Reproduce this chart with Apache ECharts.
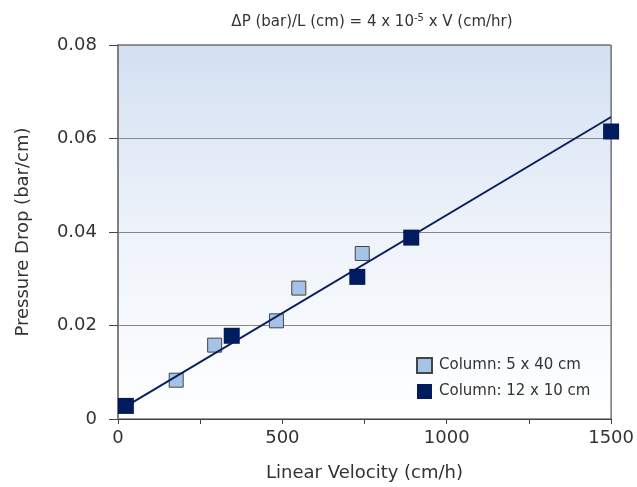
<!DOCTYPE html>
<html>
<head>
<meta charset="utf-8">
<script src="https://cdn.jsdelivr.net/npm/echarts@6/dist/echarts.min.js"></script>
<style>
  html, body { margin: 0; padding: 0; background: #fff; }
  #chart { width: 637px; height: 487px; }
</style>
</head>
<body>
<div id="chart"></div>
<script>
// Column: 5 x 40 cm
const smallColX = [177, 294, 482, 550, 743];
const smallColY = [0.0083, 0.0158, 0.021, 0.028, 0.0354];
// Column: 12 x 10 cm
const bigColX = [24, 346, 728, 892, 1500];
const bigColY = [0.0028, 0.0178, 0.0304, 0.0388, 0.0615];
// linear trend line end points
const trendX = [24, 1500];
const trendY = [0.0027, 0.0646];

const seriesNames = ["Column: 5 x 40 cm", "Column: 12 x 10 cm"];

const pairs = (xs, ys) => xs.map((x, i) => [x, ys[i]]);

const font = "'DejaVu Sans', sans-serif";
const chart = echarts.init(document.getElementById("chart"));

chart.setOption({
  animation: false,
  textStyle: { fontFamily: font },
  title: {
    text: "ΔP (bar)/L (cm) = 4 x 10{sup|-5} x V (cm/hr)",
    left: 367,
    top: 8,
    textAlign: "center",
    textStyle: {
      fontSize: 15,
      fontWeight: "normal",
      color: "#333",
      fontFamily: font,
      rich: {
        sup: { fontSize: 10, verticalAlign: "top", padding: [0, 0, 8, 0], color: "#333", fontFamily: font },
      },
    },
  },
  grid: {
    left: 118,
    right: 25,
    top: 45,
    bottom: 67,
    show: true,
    borderColor: "#333",
    borderWidth: 1,
    backgroundColor: new echarts.graphic.LinearGradient(0, 0, 0, 1, [
      { offset: 0, color: "#d3e0f2" },
      { offset: 0.5, color: "#eef3fa" },
      { offset: 1, color: "#ffffff" },
    ]),
  },
  legend: {
    orient: "vertical",
    left: 416,
    top: 357,
    padding: 0,
    itemWidth: 15,
    itemHeight: 15,
    itemGap: 10,
    icon: "rect",
    data: seriesNames,
    textStyle: { fontSize: 15, lineHeight: 15, color: "#333", fontFamily: font, padding: [0, 0, 0, 2] },
  },
  xAxis: {
    type: "value",
    min: 0,
    max: 1500,
    interval: 250,
    name: "Linear Velocity (cm/h)",
    nameLocation: "middle",
    nameGap: 45,
    nameTextStyle: { fontSize: 18, color: "#333", fontFamily: font },
    axisLine: { show: true, lineStyle: { color: "#444", width: 1 } },
    axisTick: { show: true, length: 5, lineStyle: { color: "#444" } },
    axisLabel: {
      fontSize: 18,
      color: "#333",
      margin: 10,
      formatter: (v) => (v % 500 === 0 ? String(v) : ""),
    },
    splitLine: { show: false },
  },
  yAxis: {
    type: "value",
    min: 0,
    max: 0.08,
    interval: 0.02,
    name: "Pressure Drop (bar/cm)",
    nameLocation: "middle",
    nameGap: 86,
    nameTextStyle: { fontSize: 18, color: "#333", fontFamily: font },
    axisLine: { show: true, lineStyle: { color: "#808080", width: 2 } },
    axisTick: { show: true, length: 9, lineStyle: { color: "#444" } },
    axisLabel: {
      fontSize: 18,
      color: "#333",
      margin: 21,
      formatter: (v) => (v === 0 ? "0" : v.toFixed(2)),
    },
    splitLine: { show: true, lineStyle: { color: "#888", width: 1 } },
  },
  series: [
    {
      name: seriesNames[0],
      type: "scatter",
      symbol: "rect",
      symbolSize: 14,
      z: 2,
      itemStyle: { color: "#a4c3e7", borderColor: "#444", borderWidth: 1, opacity: 1 },
      data: pairs(smallColX, smallColY),
    },
    {
      name: "trend",
      type: "line",
      symbol: "none",
      z: 3,
      lineStyle: { color: "#0a1f5e", width: 2 },
      data: pairs(trendX, trendY),
    },
    {
      name: seriesNames[1],
      type: "scatter",
      symbol: "rect",
      symbolSize: 16,
      z: 4,
      clip: false,
      itemStyle: { color: "#001b5e", opacity: 1 },
      data: pairs(bigColX, bigColY),
    },
  ],
});
</script>
</body>
</html>
